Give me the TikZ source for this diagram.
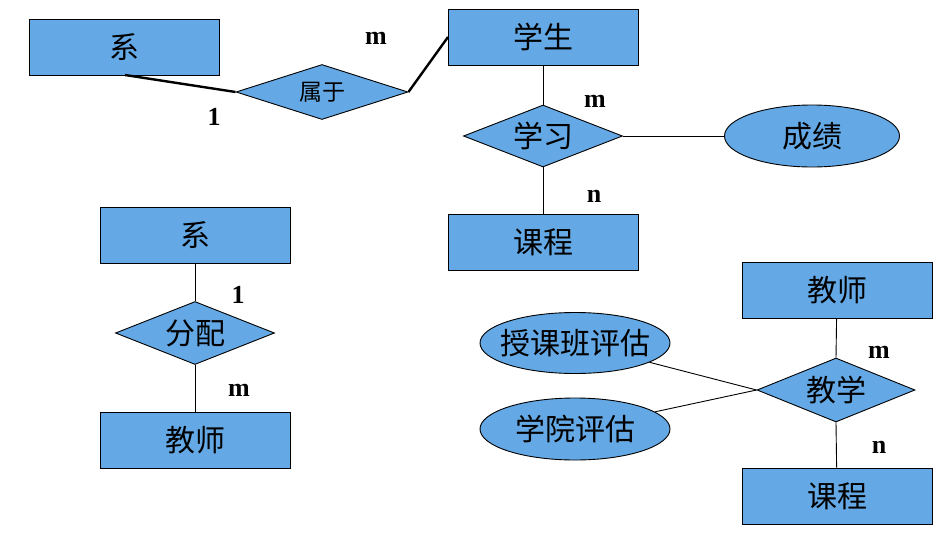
\documentclass[tikz,border=0pt]{standalone}
\usepackage{fontspec}
\setmainfont{Liberation Serif}
\newfontfamily\cjk{Noto Sans CJK SC}
\usetikzlibrary{shapes.geometric}
\definecolor{erblue}{RGB}{100,169,229}
\tikzset{
  cjkbig/.style={font=\cjk\fontsize{30}{32}\selectfont},
  ent/.style={draw=black, line width=0.9pt, fill=erblue, rectangle, minimum width=190pt, minimum height=56pt, inner sep=0pt, cjkbig},
  rel/.style={draw=black, line width=0.9pt, fill=erblue, diamond, inner sep=0pt, label={[cjkbig, inner sep=0pt]center:#1}},
  attr/.style={draw=black, line width=0.9pt, fill=erblue, ellipse, inner sep=0pt, label={[cjkbig, inner sep=0pt]center:#1}},
  card/.style={font=\bfseries\fontsize{26}{28}\selectfont, inner sep=0pt},
  thin/.style={line width=0.9pt},
  thick2/.style={line width=2.4pt},
}
\begin{document}
\begin{tikzpicture}[x=1pt,y=-1pt]
\useasboundingbox (0,0) rectangle (941,541);
% top-left group
\node[ent] (xi1) at (124,47) {系};
\node[draw=black, line width=0.9pt, fill=erblue, diamond, inner sep=0pt, minimum width=172pt, minimum height=55pt,
      label={[font=\cjk\fontsize{23}{25}\selectfont, inner sep=0pt]center:属于}] (shuyu) at (322,92) {};
\node[ent] (xs) at (543,37) {学生};
\node[rel=学习, minimum width=159pt, minimum height=62pt] (xuexi) at (543,136) {};
\node[attr=成绩, minimum width=175pt, minimum height=62pt] (cj) at (812,136) {};
\node[ent] (kc1) at (543,242) {课程};
\coordinate (xi1b) at (125,75);
\coordinate (xsl) at (448,37);
\draw[thick2] (xi1b) -- (shuyu.west);
\draw[thick2] (shuyu.east) -- (xsl);
\draw[thin] (xs) -- (xuexi.north);
\draw[thin] (xuexi.south) -- (kc1);
\draw[thin] (xuexi.east) -- (cj);
\node[card] (l1) at (214,117) {1};
\node[card] (l2) at (376,38) {m};
\node[card] (l3) at (595,101) {m};
\node[card] (l4) at (594,196) {n};
% middle-left group
\node[ent] (xi2) at (195,235) {系};
\node[rel=分配, minimum width=159pt, minimum height=63pt] (fp) at (195,333) {};
\node[ent] (js1) at (195,440) {教师};
\draw[thin] (xi2) -- (fp.north);
\draw[thin] (fp.south) -- (js1);
\node[card] (l5) at (238,295) {1};
\node[card] (l6) at (239,390) {m};
% bottom-right group
\node[ent] (js2) at (837,290) {教师};
\node[rel=教学, minimum width=158pt, minimum height=64pt] (jx) at (836,390) {};
\node[ent] (kc2) at (837,496) {课程};
\node[attr=授课班评估, minimum width=190pt, minimum height=61pt] (skb) at (575,343) {};
\node[attr=学院评估, minimum width=190pt, minimum height=62pt] (xypg) at (575,429) {};
\draw[thin] (js2) -- (jx.north);
\draw[thin] (jx.south) -- (kc2);
\draw[thin] (skb) -- (jx.west);
\draw[thin] (xypg) -- (jx.west);
\node[card] (l7) at (879,352) {m};
\node[card] (l8) at (879,447) {n};
\end{tikzpicture}
\end{document}
